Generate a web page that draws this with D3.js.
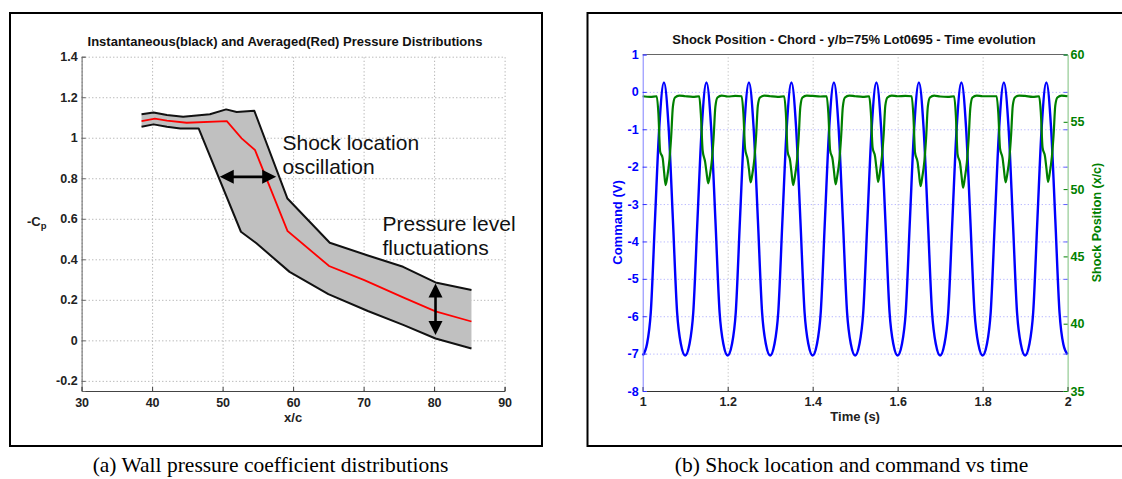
<!DOCTYPE html>
<html>
<head>
<meta charset="utf-8">
<script src="https://cdn.jsdelivr.net/npm/d3@7"></script>
<style>
  body { margin: 0; background: #fff; }
  svg { display: block; }
</style>
</head>
<body>
<script>
// -----------------------------
// Data: (a) pressure distributions, x/c (%) vs -Cp
// -----------------------------
const upperX  = [38.5, 40.2, 42.1, 44.4, 48.2, 50.5, 52.0, 54.5, 59.2, 65.2, 70.5, 75.6, 80.2, 85.3];
const upperCp = [1.116, 1.125, 1.112, 1.104, 1.116, 1.140, 1.127, 1.133, 0.700, 0.482, 0.420, 0.363, 0.286, 0.248];
const lowerX  = [38.5, 40.2, 42.1, 44.0, 46.6, 52.6, 54.8, 59.5, 65.0, 70.6, 75.7, 80.2, 85.3];
const lowerCp = [1.054, 1.066, 1.054, 1.046, 1.046, 0.536, 0.479, 0.338, 0.228, 0.145, 0.075, 0.009, -0.040];
const meanX   = [38.5, 40.4, 42.1, 44.9, 50.6, 52.7, 54.6, 59.2, 65.1, 70.1, 75.6, 80.2, 85.3];
const meanCp  = [1.082, 1.094, 1.084, 1.074, 1.082, 0.997, 0.939, 0.540, 0.367, 0.297, 0.212, 0.143, 0.093];

const cpXTicks = [30, 40, 50, 60, 70, 80, 90];
const cpYTicks = [-0.2, 0, 0.2, 0.4, 0.6, 0.8, 1, 1.2, 1.4];

// -----------------------------
// Data: (b) command (V) and shock position (x/c) vs time (s)
// -----------------------------
const commandTime = [
  1.000, 1.010, 1.019, 1.029, 1.039, 1.050, 1.061, 1.071, 1.081, 1.090,
  1.100, 1.110, 1.119, 1.129, 1.139, 1.150, 1.161, 1.171, 1.181, 1.190,
  1.200, 1.210, 1.219, 1.229, 1.239, 1.250, 1.261, 1.271, 1.281, 1.290,
  1.300, 1.310, 1.319, 1.329, 1.339, 1.350, 1.361, 1.371, 1.381, 1.390,
  1.400, 1.410, 1.419, 1.429, 1.439, 1.450, 1.461, 1.471, 1.481, 1.490,
  1.500, 1.510, 1.519, 1.529, 1.539, 1.550, 1.561, 1.571, 1.581, 1.590,
  1.600, 1.610, 1.619, 1.629, 1.639, 1.650, 1.661, 1.671, 1.681, 1.690,
  1.700, 1.710, 1.719, 1.729, 1.739, 1.750, 1.761, 1.771, 1.781, 1.790,
  1.800, 1.810, 1.819, 1.829, 1.839, 1.850, 1.861, 1.871, 1.881, 1.890,
  1.900, 1.910, 1.919, 1.929, 1.939, 1.950, 1.961, 1.971, 1.981, 1.990,
  2.000
];
const commandVolt = [
  -7.05, -6.75, -5.9, -3.4, -0.95, 0.25, -0.95, -3.4, -5.9, -6.75,
  -7.05, -6.75, -5.9, -3.4, -0.95, 0.25, -0.95, -3.4, -5.9, -6.75,
  -7.05, -6.75, -5.9, -3.4, -0.95, 0.25, -0.95, -3.4, -5.9, -6.75,
  -7.05, -6.75, -5.9, -3.4, -0.95, 0.25, -0.95, -3.4, -5.9, -6.75,
  -7.05, -6.75, -5.9, -3.4, -0.95, 0.25, -0.95, -3.4, -5.9, -6.75,
  -7.05, -6.75, -5.9, -3.4, -0.95, 0.25, -0.95, -3.4, -5.9, -6.75,
  -7.05, -6.75, -5.9, -3.4, -0.95, 0.25, -0.95, -3.4, -5.9, -6.75,
  -7.05, -6.75, -5.9, -3.4, -0.95, 0.25, -0.95, -3.4, -5.9, -6.75,
  -7.05, -6.75, -5.9, -3.4, -0.95, 0.25, -0.95, -3.4, -5.9, -6.75,
  -7.05, -6.75, -5.9, -3.4, -0.95, 0.25, -0.95, -3.4, -5.9, -6.75,
  -7.02
];

const shockTime = [
  1.000, 1.018, 1.033, 1.037, 1.041, 1.047, 1.050, 1.054, 1.058, 1.063, 1.067, 1.071, 1.076, 1.086,
  1.100, 1.118, 1.133, 1.137, 1.141, 1.147, 1.150, 1.154, 1.158, 1.163, 1.167, 1.171, 1.176, 1.186,
  1.200, 1.218, 1.233, 1.237, 1.241, 1.247, 1.250, 1.254, 1.258, 1.263, 1.267, 1.271, 1.276, 1.286,
  1.300, 1.318, 1.333, 1.337, 1.341, 1.347, 1.350, 1.354, 1.358, 1.363, 1.367, 1.371, 1.376, 1.386,
  1.400, 1.418, 1.433, 1.437, 1.441, 1.447, 1.450, 1.454, 1.458, 1.463, 1.467, 1.471, 1.476, 1.486,
  1.500, 1.518, 1.533, 1.537, 1.541, 1.547, 1.550, 1.554, 1.558, 1.563, 1.567, 1.571, 1.576, 1.586,
  1.600, 1.618, 1.633, 1.637, 1.641, 1.647, 1.650, 1.654, 1.658, 1.663, 1.667, 1.671, 1.676, 1.686,
  1.700, 1.718, 1.733, 1.737, 1.741, 1.747, 1.750, 1.754, 1.758, 1.763, 1.767, 1.771, 1.776, 1.786,
  1.800, 1.818, 1.833, 1.837, 1.841, 1.847, 1.850, 1.854, 1.858, 1.863, 1.867, 1.871, 1.876, 1.886,
  1.900, 1.918, 1.933, 1.937, 1.941, 1.947, 1.950, 1.954, 1.958, 1.963, 1.967, 1.971, 1.976, 1.986,
  2.000
];
const shockPos = [
  56.90, 56.85, 56.90, 55.60, 52.80, 52.30, 51.40, 50.30, 50.95, 52.20, 53.90, 56.10, 56.80, 56.95,
  56.90, 56.85, 56.90, 55.50, 52.90, 52.00, 51.30, 50.43, 51.00, 52.20, 53.90, 56.10, 56.80, 56.95,
  56.88, 56.92, 56.90, 55.60, 53.00, 52.20, 51.50, 50.50, 51.10, 52.30, 54.00, 56.20, 56.80, 56.95,
  56.90, 56.85, 56.90, 55.60, 52.80, 52.10, 51.30, 50.30, 50.90, 52.10, 53.80, 56.10, 56.80, 56.95,
  56.92, 56.88, 56.90, 55.60, 52.90, 52.20, 51.40, 50.35, 51.00, 52.20, 53.90, 56.10, 56.80, 56.95,
  56.90, 56.85, 56.90, 55.70, 53.10, 52.40, 51.60, 50.54, 51.20, 52.40, 54.00, 56.20, 56.80, 56.95,
  56.90, 56.92, 56.90, 55.50, 52.70, 52.00, 51.20, 50.22, 50.90, 52.10, 53.80, 56.10, 56.80, 56.95,
  56.88, 56.85, 56.90, 55.50, 52.60, 51.90, 51.10, 50.10, 50.80, 52.00, 53.70, 56.00, 56.80, 56.95,
  56.90, 56.90, 56.90, 55.60, 53.00, 52.30, 51.50, 50.50, 51.10, 52.30, 54.00, 56.20, 56.80, 56.95,
  56.92, 56.85, 56.90, 55.70, 53.10, 52.40, 51.60, 50.54, 51.20, 52.40, 54.00, 56.20, 56.80, 56.95,
  56.90
];

const timeTicks = [1, 1.2, 1.4, 1.6, 1.8, 2];
const commandTicks = [-8, -7, -6, -5, -4, -3, -2, -1, 0, 1];
const positionTicks = [35, 40, 45, 50, 55, 60];

// -----------------------------
// SVG Setup
// -----------------------------
const WIDTH = 1122;
const HEIGHT = 479;
const FONT = "'Liberation Sans', Arial, sans-serif";

const svg = d3.select("body")
  .append("svg")
  .attr("width", WIDTH)
  .attr("height", HEIGHT)
  .style("font-family", FONT);

const fmt = d => String(+d.toFixed(1));

// style the tick labels of an axis group
function styleTicks(g, color) {
  g.selectAll(".tick text")
    .attr("fill", color)
    .style("font-size", "12.5px")
    .style("font-weight", "bold")
    .style("font-family", FONT);
}

// two-headed arrow between two pixel points
function doubleArrow(g, x1, y1, x2, y2) {
  const HEAD = 14, HALF = 7;
  const a = Math.atan2(y2 - y1, x2 - x1);
  const ux = Math.cos(a), uy = Math.sin(a);
  const head = (tx, ty, dir) => {
    const bx = tx - dir * ux * HEAD, by = ty - dir * uy * HEAD;
    return [[tx, ty], [bx - uy * HALF, by + ux * HALF], [bx + uy * HALF, by - ux * HALF]];
  };
  g.append("line")
    .attr("x1", x1 + ux * HEAD * 0.8).attr("y1", y1 + uy * HEAD * 0.8)
    .attr("x2", x2 - ux * HEAD * 0.8).attr("y2", y2 - uy * HEAD * 0.8)
    .attr("stroke", "#000").attr("stroke-width", 2.6);
  g.append("polygon").attr("points", head(x1, y1, -1).join(" ")).attr("fill", "#000");
  g.append("polygon").attr("points", head(x2, y2, 1).join(" ")).attr("fill", "#000");
}

// -----------------------------
// Panel (a): wall pressure coefficient
// -----------------------------
function drawPressurePanel() {
  const g = svg.append("g").attr("id", "panel-a");

  g.append("rect")
    .attr("x", 10).attr("y", 13).attr("width", 532).attr("height", 433)
    .attr("fill", "none").attr("stroke", "#000").attr("stroke-width", 2);

  const x = d3.scaleLinear().domain([30, 90]).range([81.6, 504.6]);
  const y = d3.scaleLinear().domain([-0.25, 1.4]).range([391, 56.7]);
  const top = y(1.4), bottom = y(-0.25);

  // grid
  g.append("g")
    .attr("transform", `translate(0,${bottom})`)
    .call(d3.axisBottom(x).tickValues(cpXTicks).tickSize(-(bottom - top)).tickFormat(""))
    .call(a => a.select(".domain").remove())
    .selectAll("line").attr("stroke", "#b4b4b4").attr("stroke-dasharray", "1.3,2.2");
  g.append("g")
    .attr("transform", `translate(${x(30)},0)`)
    .call(d3.axisLeft(y).tickValues(cpYTicks).tickSize(-(x(90) - x(30))).tickFormat(""))
    .call(a => a.select(".domain").remove())
    .selectAll("line").attr("stroke", "#b4b4b4").attr("stroke-dasharray", "1.3,2.2");

  // band between instantaneous envelopes
  const upper = upperX.map((d, i) => [x(d), y(upperCp[i])]);
  const lower = lowerX.map((d, i) => [x(d), y(lowerCp[i])]);
  g.append("path")
    .attr("d", d3.line()(upper.concat(lower.slice().reverse())) + "Z")
    .attr("fill", "#c0c0c0");

  const line = d3.line();
  g.append("path").attr("d", line(upper))
    .attr("fill", "none").attr("stroke", "#111").attr("stroke-width", 2).attr("stroke-linejoin", "round");
  g.append("path").attr("d", line(lower))
    .attr("fill", "none").attr("stroke", "#111").attr("stroke-width", 2).attr("stroke-linejoin", "round");
  g.append("path").attr("d", line(meanX.map((d, i) => [x(d), y(meanCp[i])])))
    .attr("fill", "none").attr("stroke", "#ff0000").attr("stroke-width", 1.8);

  // axes
  const xAxis = g.append("g")
    .attr("transform", `translate(0,${bottom})`)
    .call(d3.axisBottom(x).tickValues(cpXTicks).tickFormat(fmt).tickSize(-4).tickPadding(7));
  xAxis.select(".domain").attr("stroke", "#444");
  xAxis.selectAll(".tick line").attr("stroke", "#444");
  styleTicks(xAxis, "#222");

  const yAxis = g.append("g")
    .attr("transform", `translate(${x(30)},0)`)
    .call(d3.axisLeft(y).tickValues(cpYTicks).tickFormat(fmt).tickSize(-4).tickPadding(4));
  yAxis.select(".domain").attr("stroke", "#666");
  yAxis.selectAll(".tick line").attr("stroke", "#666");
  styleTicks(yAxis, "#222");

  // titles
  g.append("text")
    .attr("x", 285).attr("y", 45.5)
    .attr("text-anchor", "middle")
    .style("font-size", "13px").style("font-weight", "bold").attr("fill", "#111")
    .text("Instantaneous(black) and Averaged(Red) Pressure Distributions");

  g.append("text")
    .attr("x", x(60)).attr("y", 421.5)
    .attr("text-anchor", "middle")
    .style("font-size", "13px").style("font-weight", "bold").attr("fill", "#222")
    .text("x/c");

  const cp = g.append("text")
    .attr("x", 27).attr("y", 226)
    .style("font-size", "13px").style("font-weight", "bold").attr("fill", "#222");
  cp.append("tspan").text("-C");
  cp.append("tspan").attr("dy", 3).style("font-size", "9.5px").text("p");

  // annotations
  const note = (tx, ty, s) => g.append("text")
    .attr("x", tx).attr("y", ty)
    .style("font-size", "21px").attr("fill", "#111").text(s);
  note(282.5, 149.5, "Shock location");
  note(282.5, 173.5, "oscillation");
  note(382.5, 230.5, "Pressure level");
  note(382.5, 254.5, "fluctuations");

  doubleArrow(g, x(49.6), y(0.807), x(57.6), y(0.807));
  doubleArrow(g, x(80.2), y(0.281), x(80.2), y(0.026));
}

// -----------------------------
// Panel (b): shock position and command
// -----------------------------
function drawShockPanel() {
  const g = svg.append("g").attr("id", "panel-b");

  g.append("rect")
    .attr("x", 587.5).attr("y", 13).attr("width", 560).attr("height", 433)
    .attr("fill", "none").attr("stroke", "#000").attr("stroke-width", 2);

  const x = d3.scaleLinear().domain([1, 2]).range([642.7, 1067.6]);
  const yCmd = d3.scaleLinear().domain([-8, 1]).range([391, 54.5]);
  const yPos = d3.scaleLinear().domain([35, 60]).range([391, 54.5]);
  const top = yCmd(1), bottom = yCmd(-8), left = x(1), right = x(2);

  // grid
  g.append("g")
    .attr("transform", `translate(0,${bottom})`)
    .call(d3.axisBottom(x).tickValues(timeTicks.slice(1, -1)).tickSize(-(bottom - top)).tickFormat(""))
    .call(a => a.select(".domain").remove())
    .selectAll("line").attr("stroke", "#c4c4c4").attr("stroke-dasharray", "1.3,2.2");
  g.append("g")
    .attr("transform", `translate(${left},0)`)
    .call(d3.axisLeft(yCmd).tickValues(commandTicks.slice(1, -1)).tickSize(-(right - left)).tickFormat(""))
    .call(a => a.select(".domain").remove())
    .selectAll("line").attr("stroke", "#b8b8ff").attr("stroke-dasharray", "1.3,2.2");

  // box top
  g.append("line")
    .attr("x1", left).attr("x2", right).attr("y1", top).attr("y2", top)
    .attr("stroke", "#666").attr("stroke-width", 1);

  // series
  g.append("path")
    .attr("d", d3.line().curve(d3.curveMonotoneX)(commandTime.map((t, i) => [x(t), yCmd(commandVolt[i])])))
    .attr("fill", "none").attr("stroke", "#0000ff").attr("stroke-width", 2.4);
  g.append("path")
    .attr("d", d3.line().curve(d3.curveMonotoneX)(shockTime.map((t, i) => [x(t), yPos(shockPos[i])])))
    .attr("fill", "none").attr("stroke", "#008000").attr("stroke-width", 2.2);

  // axes
  const xAxis = g.append("g")
    .attr("transform", `translate(0,${bottom})`)
    .call(d3.axisBottom(x).tickValues(timeTicks).tickFormat(fmt).tickSize(-4).tickPadding(6));
  xAxis.select(".domain").attr("stroke", "#333");
  xAxis.selectAll(".tick line").attr("stroke", "#333");
  styleTicks(xAxis, "#222");

  const yLeft = g.append("g")
    .attr("transform", `translate(${left},0)`)
    .call(d3.axisLeft(yCmd).tickValues(commandTicks).tickFormat(fmt).tickSize(-4).tickPadding(4));
  yLeft.select(".domain").attr("stroke", "#8080ff");
  yLeft.selectAll(".tick line").attr("stroke", "#3030ff");
  styleTicks(yLeft, "#0000ff");

  // command ticks mirrored on the right side
  g.append("g")
    .attr("transform", `translate(${right},0)`)
    .call(d3.axisRight(yCmd).tickValues(commandTicks).tickFormat("").tickSize(-4))
    .call(a => a.select(".domain").remove())
    .selectAll("line").attr("stroke", "#6060ff");

  const yRight = g.append("g")
    .attr("transform", `translate(${right},0)`)
    .call(d3.axisRight(yPos).tickValues(positionTicks).tickFormat(fmt).tickSize(-4).tickPadding(3));
  yRight.select(".domain").attr("stroke", "#7cc07c");
  yRight.selectAll(".tick line").attr("stroke", "#008000");
  styleTicks(yRight, "#008000");

  // titles
  g.append("text")
    .attr("x", 854).attr("y", 43.5)
    .attr("text-anchor", "middle")
    .style("font-size", "13px").style("font-weight", "bold").attr("fill", "#111")
    .text("Shock Position - Chord - y/b=75% Lot0695 - Time evolution");

  g.append("text")
    .attr("x", (left + right) / 2).attr("y", 420.5)
    .attr("text-anchor", "middle")
    .style("font-size", "13px").style("font-weight", "bold").attr("fill", "#222")
    .text("Time (s)");

  g.append("text")
    .attr("transform", `translate(621.5,222.5) rotate(-90)`)
    .attr("text-anchor", "middle")
    .style("font-size", "13px").style("font-weight", "bold").attr("fill", "#0000ff")
    .text("Command (V)");

  g.append("text")
    .attr("transform", `translate(1100.5,222.5) rotate(-90)`)
    .attr("text-anchor", "middle")
    .style("font-size", "12.5px").style("font-weight", "bold").attr("fill", "#008000")
    .text("Shock Position (x/c)");
}

// -----------------------------
// Captions
// -----------------------------
function drawCaptions() {
  const cap = (cx, s) => svg.append("text")
    .attr("x", cx).attr("y", 472)
    .attr("text-anchor", "middle")
    .style("font-family", "'Liberation Serif', 'Times New Roman', serif")
    .style("font-size", "21.5px").attr("fill", "#000")
    .text(s);
  cap(270.5, "(a) Wall pressure coefficient distributions");
  cap(851.5, "(b) Shock location and command vs time");
}

drawPressurePanel();
drawShockPanel();
drawCaptions();
</script>
</body>
</html>
